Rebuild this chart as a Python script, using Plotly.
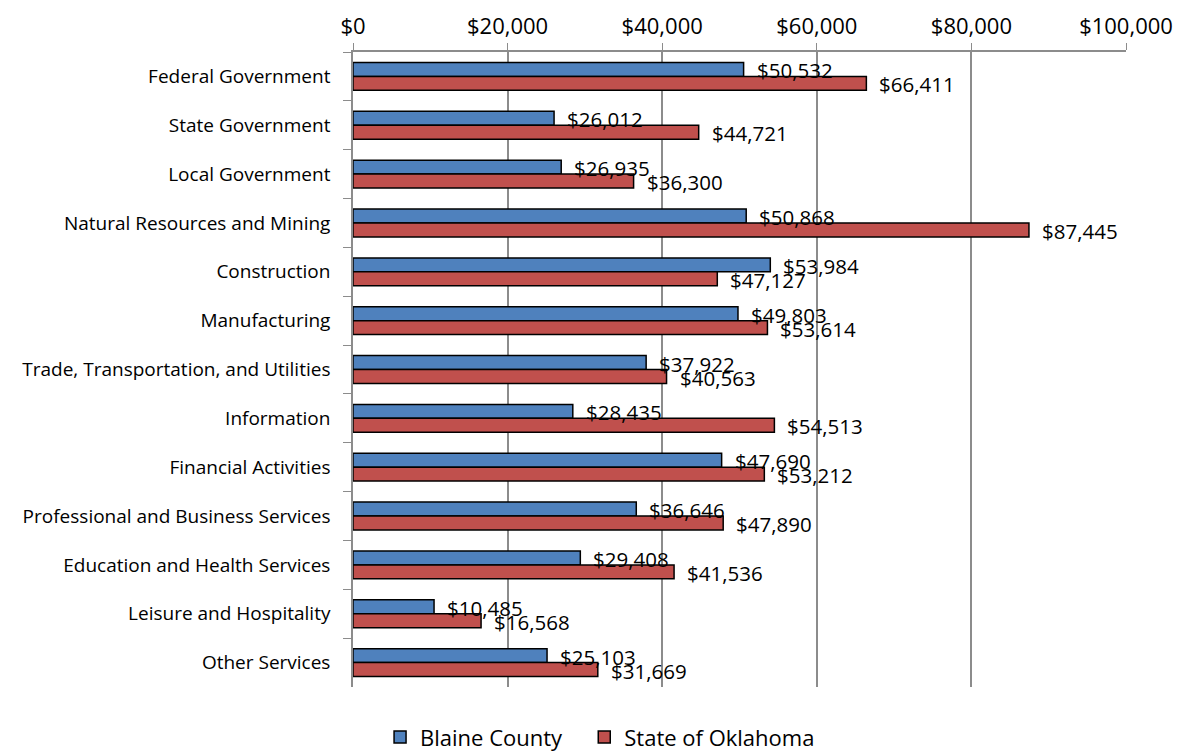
import plotly.graph_objects as go

categories = ["Federal Government", "State Government", "Local Government",
              "Natural Resources and Mining", "Construction", "Manufacturing",
              "Trade, Transportation, and Utilities", "Information",
              "Financial Activities", "Professional and Business Services",
              "Education and Health Services", "Leisure and Hospitality",
              "Other Services"]
blaine = [50532, 26012, 26935, 50868, 53984, 49803, 37922, 28435, 47690,
          36646, 29408, 10485, 25103]
oklahoma = [66411, 44721, 36300, 87445, 47127, 53614, 40563, 54513, 53212,
            47890, 41536, 16568, 31669]
tick_vals = [0, 20000, 40000, 60000, 80000, 100000]
tick_text = ["$0", "$20,000", "$40,000", "$60,000", "$80,000", "$100,000"]

FONT = "Open Sans"
BLUE = "#4F81BD"
RED = "#C0504D"

fig = go.Figure()
fig.add_trace(go.Bar(y=categories, x=blaine, orientation="h", name="Blaine County   ",
                     marker=dict(color=BLUE, line=dict(color="black", width=1.5))))
fig.add_trace(go.Bar(y=categories, x=oklahoma, orientation="h", name="State of Oklahoma",
                     marker=dict(color=RED, line=dict(color="black", width=1.5))))

for c, b, o in zip(categories, blaine, oklahoma):
    fig.add_annotation(x=b, y=c, text=f"${b:,}", showarrow=False, xanchor="left",
                       xshift=11, yshift=6, font=dict(family=FONT, size=20.5, color="black"))
    fig.add_annotation(x=o, y=c, text=f"${o:,}", showarrow=False, xanchor="left",
                       xshift=11, yshift=-8, font=dict(family=FONT, size=20.5, color="black"))

fig.update_layout(
    width=1179, height=744,
    margin=dict(l=345, r=61, t=44, b=65, autoexpand=False),
    paper_bgcolor="white", plot_bgcolor="white",
    barmode="group", bargap=0.43, bargroupgap=0,
    font=dict(family=FONT, size=18, color="black"),
    showlegend=True,
    legend=dict(orientation="h", x=0.035, xref="paper", xanchor="left",
                y=-0.046, yanchor="top", font=dict(family=FONT, size=22),
                traceorder="normal", itemwidth=30),
    xaxis=dict(side="top", range=[0, 100000], tickvals=tick_vals, ticktext=tick_text,
               showgrid=True, gridcolor="#8C8C8C", gridwidth=1.5,
               showline=True, linecolor="#8C8C8C", linewidth=1.5,
               ticks="outside", ticklen=7, tickcolor="#8C8C8C", automargin=False,
               tickfont=dict(family=FONT, size=22), zeroline=False),
    yaxis=dict(autorange="reversed", showline=True, linecolor="#8C8C8C", linewidth=1.5,
               ticks="outside", ticklen=8, tickcolor="#8C8C8C", tickson="boundaries",
               automargin=False,
               tickfont=dict(family=FONT, size=19), ticklabelstandoff=17),
)

fig.write_html("out.html")
